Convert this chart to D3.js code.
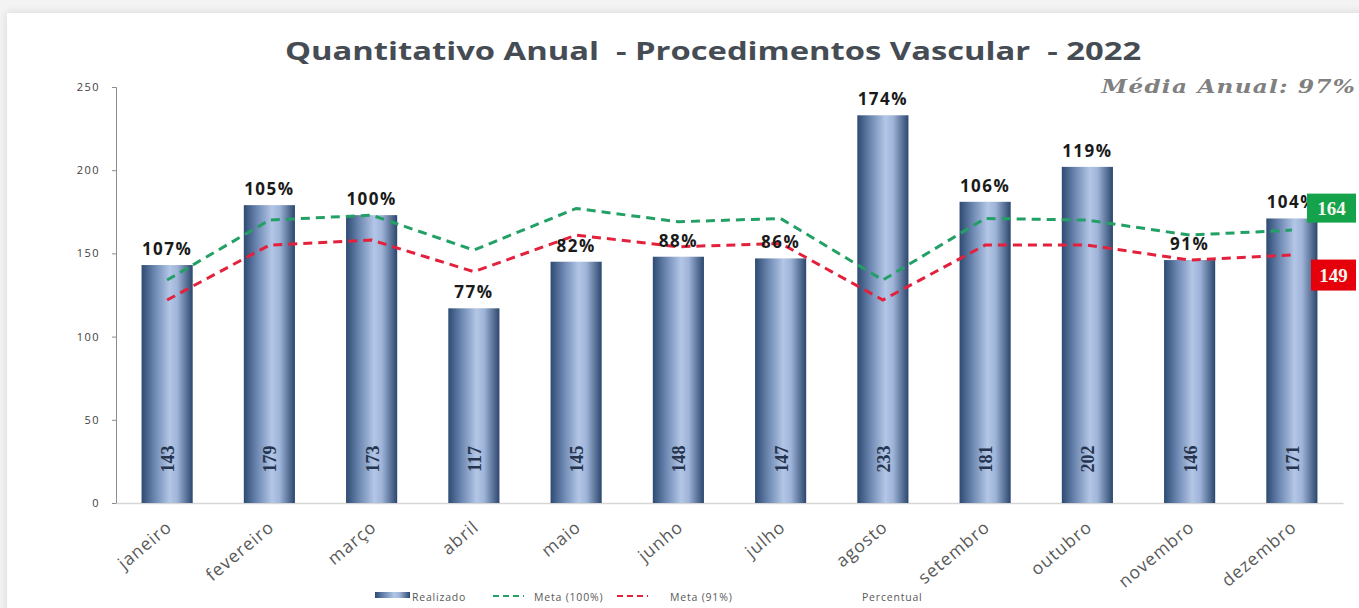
<!DOCTYPE html>
<html>
<head>
<meta charset="utf-8">
<script src="https://cdn.jsdelivr.net/npm/d3@7"></script>
<style>
  body { margin: 0; background: #f4f4f4; }
  svg { display: block; }
</style>
</head>
<body>
<div id="vis"></div>
<script>
// data
const MONTHS = ["janeiro", "fevereiro", "março", "abril", "maio", "junho",
                "julho", "agosto", "setembro", "outubro", "novembro", "dezembro"];
const REALIZADO = [143, 179, 173, 117, 145, 148, 147, 233, 181, 202, 146, 171];
const META_100 = [134, 170, 173, 152, 177, 169, 171, 134, 171, 170, 161, 164];
const META_91 = [122, 155, 158, 139, 161, 154, 156, 122, 155, 155, 146, 149];
const PERCENTUAL = ["107%", "105%", "100%", "77%", "82%", "88%", "86%", "174%",
                    "106%", "119%", "91%", "104%"];
const Y_TICKS = [0, 50, 100, 150, 200, 250];
const TITLE = "Quantitativo Anual  - Procedimentos Vascular  - 2022";
const MEDIA = "Média Anual: 97%";
const LEGEND = ["Realizado", "Meta (100%)", "Meta (91%)", "Percentual"];

// frame
const FRAME_WIDTH = 1359;
const FRAME_HEIGHT = 608;
const MARGINS = {left: 116, right: 16, top: 87, bottom: 105};

const FRAME = d3.select("#vis")
  .append("svg")
  .attr("width", FRAME_WIDTH)
  .attr("height", FRAME_HEIGHT);

const defs = FRAME.append("defs");

// card shadow
const shadow = defs.append("filter").attr("id", "shadow")
  .attr("x", "-5%").attr("y", "-5%").attr("width", "110%").attr("height", "110%");
shadow.append("feDropShadow")
  .attr("dx", 0).attr("dy", 0).attr("stdDeviation", 4)
  .attr("flood-color", "#000").attr("flood-opacity", 0.12);

// cylinder-like gradient for the bars
const grad = defs.append("linearGradient").attr("id", "barGrad")
  .attr("x1", "0%").attr("x2", "100%").attr("y1", "0%").attr("y2", "0%");
[["0%", "#2d4a72"], ["25%", "#6a86b0"], ["55%", "#b3c6e6"], ["70%", "#9fb4d8"], ["100%", "#2b466d"]]
  .forEach((s) => grad.append("stop").attr("offset", s[0]).attr("stop-color", s[1]));

// backgrounds
FRAME.append("rect")
  .attr("x", 0).attr("y", 0).attr("width", FRAME_WIDTH).attr("height", FRAME_HEIGHT)
  .attr("fill", "#f3f3f3");
FRAME.append("rect")
  .attr("x", 7).attr("y", 13).attr("width", FRAME_WIDTH).attr("height", FRAME_HEIGHT)
  .attr("fill", "#ffffff")
  .attr("filter", "url(#shadow)");

// scales
const X_SCALE = d3.scaleBand()
  .domain(MONTHS)
  .range([MARGINS.left, FRAME_WIDTH - MARGINS.right])
  .paddingInner(0.5)
  .paddingOuter(0.25);

const Y_SCALE = d3.scaleLinear()
  .domain([0, 250])
  .range([FRAME_HEIGHT - MARGINS.bottom, MARGINS.top]);

const cx = (i) => X_SCALE(MONTHS[i]) + X_SCALE.bandwidth() / 2;

// title (the source image is stretched sideways, so the text is too)
FRAME.append("text")
  .attr("transform", "translate(713,60) scale(1.31,1)")
  .attr("text-anchor", "middle")
  .style("white-space", "pre")
  .attr("font-family", "'Open Sans', sans-serif")
  .attr("font-weight", "bold")
  .attr("font-size", 25)
  .attr("fill", "#454c54")
  .text(TITLE);

FRAME.append("text")
  .attr("transform", "translate(1356,93) scale(1.22,1)")
  .attr("text-anchor", "end")
  .attr("font-family", "'DejaVu Serif', serif")
  .attr("font-weight", "bold")
  .attr("font-style", "italic")
  .attr("font-size", 19)
  .attr("letter-spacing", 1)
  .attr("fill", "#808080")
  .text(MEDIA);

// y axis
const yAxis = FRAME.append("g")
  .attr("transform", "translate(" + MARGINS.left + ",0)")
  .call(d3.axisLeft(Y_SCALE).tickValues(Y_TICKS).tickSize(4).tickPadding(12));
yAxis.select(".domain").attr("stroke", "#8c8c8c");
yAxis.selectAll(".tick line").attr("stroke", "#8c8c8c");
yAxis.selectAll(".tick text")
  .attr("font-family", "'Open Sans', sans-serif")
  .attr("font-size", 11)
  .attr("letter-spacing", 1.5)
  .attr("fill", "#404040");

// x axis baseline
const xAxis = FRAME.append("g")
  .attr("transform", "translate(0," + Y_SCALE(0) + ")")
  .call(d3.axisBottom(X_SCALE).tickSize(0).tickFormat(""));
xAxis.select(".domain").attr("stroke", "#d6d6d6").attr("stroke-width", 1.5);

// month labels
FRAME.selectAll(".month")
  .data(MONTHS)
  .enter()
  .append("text")
    .attr("class", "month")
    .attr("text-anchor", "end")
    .attr("transform", (d, i) => "translate(" + (cx(i) + 6) + "," + (Y_SCALE(0) + 26) + ") rotate(-40)")
    .attr("font-family", "'Open Sans', sans-serif")
    .attr("font-size", 17.5)
    .attr("letter-spacing", 1)
    .attr("fill", "#595959")
    .text((d) => d);

// bars
FRAME.selectAll(".bar")
  .data(REALIZADO)
  .enter()
  .append("rect")
    .attr("class", "bar")
    .attr("x", (d, i) => X_SCALE(MONTHS[i]))
    .attr("y", (d) => Y_SCALE(d))
    .attr("width", X_SCALE.bandwidth())
    .attr("height", (d) => Y_SCALE(0) - Y_SCALE(d))
    .attr("fill", "url(#barGrad)");

// values inside bars
FRAME.selectAll(".val")
  .data(REALIZADO)
  .enter()
  .append("text")
    .attr("class", "val")
    .attr("text-anchor", "middle")
    .attr("dominant-baseline", "central")
    .attr("transform", (d, i) => "translate(" + (cx(i) + 1) + "," + (Y_SCALE(0) - 44) + ") rotate(-90)")
    .attr("font-family", "'Liberation Serif', serif")
    .attr("font-weight", "bold")
    .attr("font-size", 18)
    .attr("fill", "#26354f")
    .text((d) => d);

// meta lines
const line = d3.line()
  .x((d, i) => cx(i))
  .y((d) => Y_SCALE(d));

FRAME.append("path")
  .datum(META_100)
  .attr("d", line)
  .attr("fill", "none")
  .attr("stroke", "#23a065")
  .attr("stroke-width", 3)
  .attr("stroke-dasharray", "9,6");

FRAME.append("path")
  .datum(META_91)
  .attr("d", line)
  .attr("fill", "none")
  .attr("stroke", "#e3213c")
  .attr("stroke-width", 3)
  .attr("stroke-dasharray", "9,6");

// percent labels
FRAME.selectAll(".pct")
  .data(PERCENTUAL)
  .enter()
  .append("text")
    .attr("class", "pct")
    .attr("x", (d, i) => cx(i))
    .attr("y", (d, i) => Y_SCALE(REALIZADO[i]) - 10)
    .attr("text-anchor", "middle")
    .attr("font-family", "'Open Sans', sans-serif")
    .attr("font-weight", "bold")
    .attr("font-size", 17)
    .attr("letter-spacing", 1.5)
    .attr("fill", "#1a1a1a")
    .text((d) => d);

// last meta value boxes
const last = MONTHS.length - 1;
const boxes = [
  {v: META_100[last], fill: "#14a34a", dy: -22, x: 1307, w: 49, h: 29},
  {v: META_91[last], fill: "#e6000c", dy: 20, x: 1311, w: 45, h: 31}
];
boxes.forEach((b) => {
  const yc = Y_SCALE(b.v) + b.dy;
  FRAME.append("rect")
    .attr("x", b.x).attr("y", yc - b.h / 2)
    .attr("width", b.w).attr("height", b.h)
    .attr("fill", b.fill);
  FRAME.append("text")
    .attr("x", b.x + b.w / 2).attr("y", yc)
    .attr("text-anchor", "middle")
    .attr("dominant-baseline", "central")
    .attr("font-family", "'Liberation Serif', serif")
    .attr("font-weight", "bold")
    .attr("font-size", 19)
    .attr("fill", "#f3f7ee")
    .text(b.v);
});

// legend
const LEG_Y = 601;
const legend = FRAME.append("g")
  .attr("font-family", "'Open Sans', sans-serif")
  .attr("font-size", 10.5)
  .attr("letter-spacing", 0.8)
  .attr("fill", "#595959");

legend.append("rect")
  .attr("x", 375).attr("y", LEG_Y - 9).attr("width", 35).attr("height", 6)
  .attr("fill", "url(#barGrad)");
legend.append("text").attr("x", 412).attr("y", LEG_Y).text(LEGEND[0]);

legend.append("line")
  .attr("x1", 493).attr("x2", 524).attr("y1", LEG_Y - 5).attr("y2", LEG_Y - 5)
  .attr("stroke", "#23a065").attr("stroke-width", 2).attr("stroke-dasharray", "6,4");
legend.append("text").attr("x", 534).attr("y", LEG_Y).text(LEGEND[1]);

legend.append("line")
  .attr("x1", 617).attr("x2", 648).attr("y1", LEG_Y - 5).attr("y2", LEG_Y - 5)
  .attr("stroke", "#e3213c").attr("stroke-width", 2).attr("stroke-dasharray", "6,4");
legend.append("text").attr("x", 670).attr("y", LEG_Y).text(LEGEND[2]);

legend.append("text").attr("x", 862).attr("y", LEG_Y).text(LEGEND[3]);
</script>
</body>
</html>
